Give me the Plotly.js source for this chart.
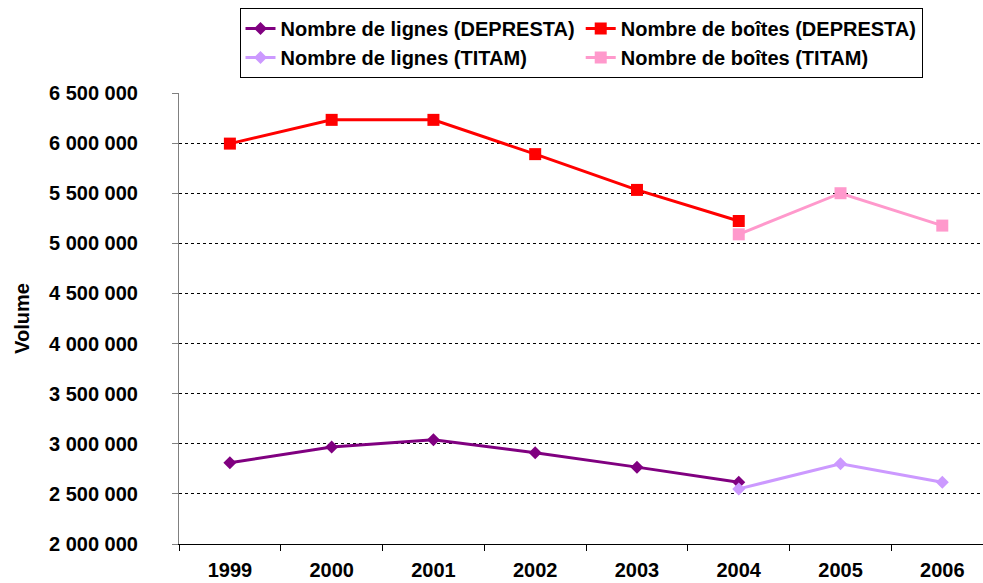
<!DOCTYPE html>
<html>
<head>
<meta charset="utf-8">
<script src="https://cdn.plot.ly/plotly-3.0.1.min.js"></script>
<style>html,body{margin:0;padding:0;background:#fff;}#chart{width:983px;height:583px;}</style>
</head>
<body>
<div id="chart"></div>
<script>
const years = ['1999','2000','2001','2002','2003','2004','2005','2006'];
const lignesDepresta = [2810000, 2967000, 3040000, 2910000, 2767000, 2617000, null, null];
const boitesDepresta = [5995000, 6232000, 6232000, 5890000, 5533000, 5223000, null, null];
const lignesTitam = [null, null, null, null, null, 2550000, 2800000, 2617000];
const boitesTitam = [null, null, null, null, null, 5090000, 5500000, 5177000];
const seriesNames = ['Nombre de lignes (DEPRESTA)', 'Nombre de boîtes (DEPRESTA)', 'Nombre de lignes (TITAM)', 'Nombre de boîtes (TITAM)'];
const yTitle = 'Volume';

const fontFamily = '"Liberation Sans", Arial, sans-serif';
const boldFont = {family: fontFamily, size: 20, color: '#000', weight: 'bold'};

function trace(y, name, color, symbol, size) {
  return {
    x: years, y: y, name: name, type: 'scatter', mode: 'lines+markers',
    line: {color: color, width: 3},
    marker: {color: color, symbol: symbol, size: size},
    connectgaps: false, hoverinfo: 'skip'
  };
}

const data = [
  trace(lignesDepresta, seriesNames[0], '#800080', 'diamond', 10),
  trace(boitesDepresta, seriesNames[1], '#FF0000', 'square', 12),
  trace(lignesTitam, seriesNames[2], '#CC99FF', 'diamond', 10),
  trace(boitesTitam, seriesNames[3], '#FF99CC', 'square', 12)
];

const layout = {
  width: 983, height: 583,
  margin: {l: 179, r: 0, t: 93, b: 39},
  paper_bgcolor: '#fff', plot_bgcolor: '#fff',
  font: boldFont,
  separators: ', ',
  showlegend: true,
  legend: {
    orientation: 'h', x: 0.5, xanchor: 'center', y: 1.1885, yanchor: 'top',
    bordercolor: '#000', borderwidth: 1, bgcolor: '#fff',
    font: boldFont, itemsizing: 'trace', traceorder: 'normal'
  },
  xaxis: {
    type: 'category', categoryorder: 'array', categoryarray: years,
    range: [-0.5, 7.4], tickson: 'boundaries',
    ticks: 'outside', ticklen: 6, tickcolor: '#000', tickwidth: 1,
    showline: true, linecolor: '#000', linewidth: 1,
    showgrid: false, zeroline: false,
    tickfont: boldFont, ticklabelstandoff: 8, fixedrange: true
  },
  yaxis: {
    range: [2000000, 6500000], dtick: 500000, tick0: 0,
    tickformat: ',d',
    ticks: 'outside', ticklen: 6, tickcolor: '#808080', tickwidth: 1,
    showline: true, linecolor: '#808080', linewidth: 1,
    showgrid: true, gridcolor: '#000', gridwidth: 1, griddash: '3px,3px',
    zeroline: false,
    tickfont: boldFont, ticklabelstandoff: 30,
    title: {text: yTitle, font: boldFont, standoff: 14},
    fixedrange: true
  }
};

Plotly.newPlot('chart', data, layout, {staticPlot: true, displayModeBar: false});
</script>
</body>
</html>
